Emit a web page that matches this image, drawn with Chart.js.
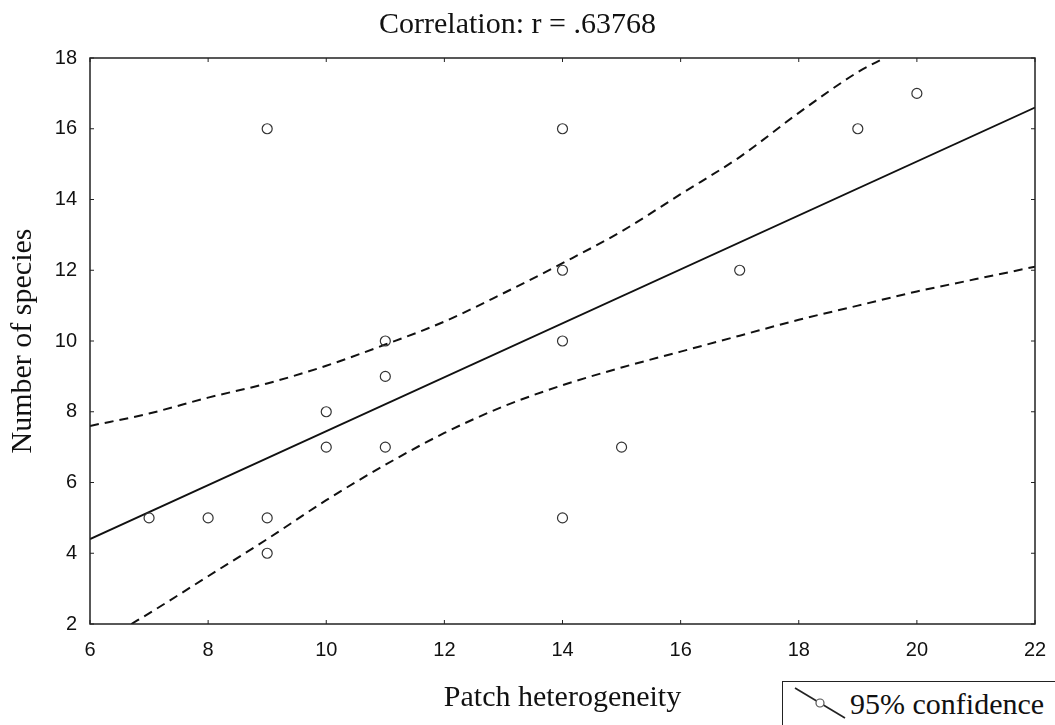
<!DOCTYPE html>
<html>
<head>
<meta charset="utf-8">
<script src="https://cdn.jsdelivr.net/npm/chart.js@4"></script>
<style>
html,body{margin:0;padding:0;background:#fff;overflow:hidden;}
#wrap{position:relative;width:1055px;height:725px;}
#chart{position:absolute;left:0;top:0;}
#legend{position:absolute;left:782px;top:681px;width:300px;height:60px;border:1.5px solid #222;background:#fff;box-sizing:border-box;}
#legend svg{position:absolute;left:0;top:0;}
#legend span{position:absolute;left:67px;top:7px;font-family:"Liberation Serif","Times New Roman",serif;font-size:30px;line-height:30px;color:#111;white-space:nowrap;}
</style>
</head>
<body>
<div id="wrap">
<canvas id="chart" width="1055" height="725"></canvas>
<div id="legend">
<svg width="80" height="50"><line x1="12" y1="6" x2="62" y2="36" stroke="#222" stroke-width="1.6"/><circle cx="37" cy="21" r="4" fill="#fff" stroke="#555" stroke-width="1.2"/></svg>
<span>95% confidence</span>
</div>
</div>
<script>
// Observations
const patchHeterogeneity = [7, 8, 9, 9, 9, 10, 10, 11, 11, 11, 14, 14, 14, 14, 15, 17, 19, 20];
const numberOfSpecies    = [5, 5, 5, 4, 16, 8, 7, 10, 9, 7, 16, 12, 10, 5, 7, 12, 16, 17];

// Regression line (endpoints)
const fitX = [6, 22];
const fitY = [4.4, 16.6];

// 95% confidence bands
const upperX = [6, 7, 8, 9, 10, 11, 12, 13, 14, 15, 16, 17, 18, 19, 19.45];
const upperY = [7.6, 7.95, 8.4, 8.8, 9.3, 9.9, 10.55, 11.35, 12.2, 13.1, 14.15, 15.2, 16.45, 17.6, 18];
const lowerX = [6.7, 7, 8, 9, 10, 11, 12, 13, 14, 15, 16, 17, 18, 19, 20, 21, 22];
const lowerY = [2.0, 2.3, 3.35, 4.4, 5.5, 6.5, 7.4, 8.15, 8.75, 9.25, 9.7, 10.15, 10.6, 11.0, 11.4, 11.75, 12.1];

// Tick labels
const xTicks = [6, 8, 10, 12, 14, 16, 18, 20, 22];
const yTicks = [2, 4, 6, 8, 10, 12, 14, 16, 18];

const toPts = (xs, ys) => xs.map((x, i) => ({x: x, y: ys[i]}));

const framePlugin = {
  id: 'frame',
  afterDatasetsDraw(chart) {
    const {ctx, chartArea: {left, right, top, bottom}, scales: {x, y}} = chart;
    ctx.save();
    ctx.strokeStyle = '#222';
    ctx.lineWidth = 1;
    ctx.beginPath();
    x.ticks.forEach(t => {
      const px = x.getPixelForValue(t.value);
      ctx.moveTo(px, bottom); ctx.lineTo(px, bottom - 4);
      ctx.moveTo(px, top); ctx.lineTo(px, top + 4);
    });
    y.ticks.forEach(t => {
      const py = y.getPixelForValue(t.value);
      ctx.moveTo(left, py); ctx.lineTo(left + 4, py);
      ctx.moveTo(right, py); ctx.lineTo(right - 4, py);
    });
    ctx.stroke();
    ctx.lineWidth = 1.5;
    ctx.strokeRect(left, top, right - left, bottom - top);
    ctx.restore();
  }
};

const serif = 'Liberation Serif';
const sans = 'Liberation Sans';

new Chart(document.getElementById('chart'), {
  type: 'scatter',
  data: {
    datasets: [
      {
        label: 'Observed',
        data: toPts(patchHeterogeneity, numberOfSpecies),
        pointRadius: 5,
        pointBorderWidth: 1.2,
        borderColor: '#333',
        backgroundColor: 'rgba(0,0,0,0)',
        showLine: false
      },
      {
        label: 'Fit',
        data: toPts(fitX, fitY),
        showLine: true,
        pointRadius: 0,
        borderColor: '#111',
        borderWidth: 1.8
      },
      {
        label: 'Upper 95%',
        data: toPts(upperX, upperY),
        showLine: true,
        pointRadius: 0,
        borderColor: '#111',
        borderWidth: 2,
        borderDash: [9, 6],
        cubicInterpolationMode: 'monotone'
      },
      {
        label: 'Lower 95%',
        data: toPts(lowerX, lowerY),
        showLine: true,
        pointRadius: 0,
        borderColor: '#111',
        borderWidth: 2,
        borderDash: [9, 6],
        cubicInterpolationMode: 'monotone'
      }
    ]
  },
  options: {
    responsive: false,
    animation: false,
    layout: {padding: {left: 0, right: 20, top: 0, bottom: 0}},
    plugins: {
      legend: {display: false},
      tooltip: {enabled: false},
      title: {
        display: true,
        text: 'Correlation: r = .63768',
        font: {family: serif, size: 30, weight: 'normal'},
        color: '#111',
        padding: {top: 7, bottom: 15}
      }
    },
    scales: {
      x: {
        type: 'linear',
        min: 6, max: 22,
        afterBuildTicks: s => { s.ticks = xTicks.map(v => ({value: v})); },
        afterFit: s => { s.height = 101; s.paddingRight = 0; s.paddingLeft = 0; },
        grid: {display: false, drawTicks: false},
        border: {display: false},
        ticks: {padding: 14, color: '#111', maxRotation: 0, font: {family: sans, size: 20}},
        title: {display: true, text: 'Patch heterogeneity', color: '#111',
                font: {family: serif, size: 30}, padding: {top: 0, bottom: 9}}
      },
      y: {
        type: 'linear',
        min: 2, max: 18,
        afterBuildTicks: s => { s.ticks = yTicks.map(v => ({value: v})); },
        afterFit: s => { s.width = 90; },
        grid: {display: false, drawTicks: false},
        border: {display: false},
        ticks: {padding: 13, color: '#111', font: {family: sans, size: 20}},
        title: {display: true, text: 'Number of species', color: '#111',
                font: {family: serif, size: 30}, padding: {top: 5, bottom: 0}}
      }
    }
  },
  plugins: [framePlugin]
});
</script>
</body>
</html>
